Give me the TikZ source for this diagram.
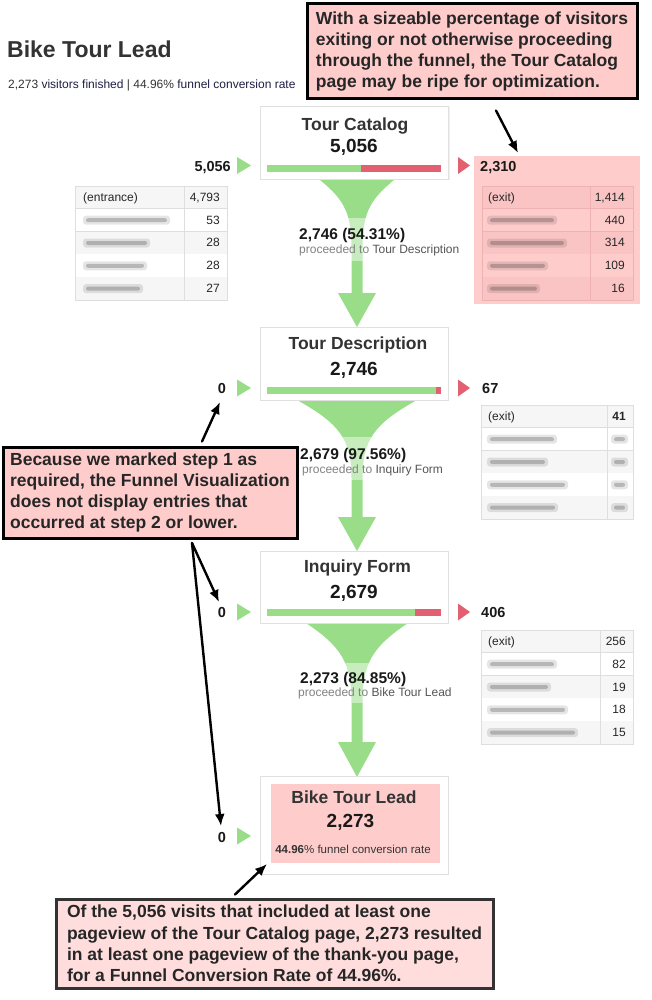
\documentclass[tikz,border=0pt]{standalone}
\usepackage{fontspec}
\setmainfont{Liberation Sans}
\usetikzlibrary{arrows.meta,shadows}

\definecolor{funnelgreen}{RGB}{153,221,136}
\definecolor{barred}{RGB}{226,96,112}
\definecolor{calloutpink}{RGB}{255,204,204}
\definecolor{notepink}{RGB}{255,221,221}
\definecolor{textgray}{RGB}{51,51,51}
\definecolor{flowgray}{RGB}{130,130,130}
\definecolor{destgray}{RGB}{85,85,85}
\definecolor{navytext}{RGB}{30,30,70}
\definecolor{cellgray}{RGB}{246,246,246}
\definecolor{linegray}{RGB}{222,222,222}
\definecolor{exitcell}{RGB}{250,196,196}
\definecolor{exitline}{RGB}{238,178,178}

% funnel: top, half width, neck, arrow base, arrow tip
\newcommand{\funnel}[5]{%
  \fill[funnelgreen] (357-#2,#1) .. controls (357-#2*0.3,#1+0.3*#3-0.3*#1) and (351.5,#1+0.5*#3-0.5*#1) .. (351.5,#3)
    -- (351.5,#4) -- (338,#4) -- (357,#5) -- (376,#4) -- (362.5,#4) -- (362.5,#3)
    .. controls (362.5,#1+0.5*#3-0.5*#1) and (357+#2*0.3,#1+0.3*#3-0.3*#1) .. (357+#2,#1) -- cycle;}

% table: left, top, right, column, fill a, fill b, lines
\newcommand{\pagetable}[7]{%
  \foreach \r in {0,...,4}{
    \ifodd\r \def\rowfill{#6}\else \def\rowfill{#5}\fi
    \fill[\rowfill] (#1,#2+\r*22.8) rectangle (#3,#2+\r*22.8+22.8);
    \draw[#7, line width=.8pt] (#1,#2+\r*22.8+22.8) -- (#3,#2+\r*22.8+22.8);
  }
  \draw[#7, line width=.8pt] (#1,#2) rectangle (#3,#2+114);
  \draw[#7, line width=.8pt] (#4,#2) -- (#4,#2+114);}

% blurred entry: x0, x1, y
\newcommand{\blurbar}[3]{%
  \fill[black, opacity=.1, rounded corners=3pt] (#1,#3-4.5) rectangle (#2,#3+4.5);
  \fill[black, opacity=.2, rounded corners=2pt] (#1+3,#3-2) rectangle (#2-3,#3+2);}

\newcommand{\entrymark}[1]{\fill[funnelgreen] (237,#1-8.5) -- (251,#1) -- (237,#1+8.5) -- cycle;}
\newcommand{\exitmark}[1]{\fill[barred] (458,#1-8.5) -- (470,#1) -- (458,#1+8.5) -- cycle;}

\tikzset{
  stepbox/.style={draw=black!12, fill=white, inner sep=0pt, minimum width=188pt,
    drop shadow={opacity=.12, shadow xshift=1pt, shadow yshift=-1pt}},
  steptitle/.style={font=\fontsize{17.5}{20}\selectfont\bfseries, text=textgray, anchor=base, inner sep=0pt},
  stepcount/.style={font=\fontsize{19}{22}\selectfont\bfseries, text=black!90, anchor=base, inner sep=0pt},
  sidecount/.style={font=\fontsize{14.5}{17}\selectfont\bfseries, text=black!90, inner sep=0pt},
  flowcount/.style={font=\fontsize{15.5}{18}\selectfont\bfseries, text=black!90, anchor=base west, inner sep=0pt},
  flowtext/.style={font=\fontsize{12}{14}\selectfont, text=flowgray, anchor=base west, inner sep=0pt},
  cell/.style={font=\fontsize{12}{14}\selectfont, text=black!85, inner sep=0pt},
  callout/.style={fill=calloutpink, draw=black, line width=3pt, align=left, inner xsep=4pt, inner ysep=0pt,
    text=black!85, font=\fontsize{17.5}{21.3}\selectfont\bfseries},
  notearrow/.style={line width=2.4pt, -{Latex[length=12pt,width=10pt]}, line cap=round}
}

\begin{document}
\begin{tikzpicture}[x=1pt, y=-1pt]
\useasboundingbox[fill=white] (0,0) rectangle (652,1000);

% Header
\node[anchor=base west, inner sep=0pt, font=\fontsize{23}{27}\selectfont\bfseries, text=textgray] (title) at (7,58) {Bike Tour Lead};
\node[anchor=base west, inner sep=0pt, font=\fontsize{12}{14}\selectfont, text=textgray] (summary) at (8,89)
  {2,273 \textcolor{navytext}{visitors finished} | 44.96\% \textcolor{navytext}{funnel conversion rate}};

% Funnels
\funnel{180}{37}{250}{293}{327}
\funnel{400}{60}{478}{517}{551}
\funnel{623}{51}{703}{742}{777}
\fill[white, opacity=.45] (290,218) rectangle (465,261);
\fill[white, opacity=.45] (290,437) rectangle (465,480);
\fill[white, opacity=.45] (290,663) rectangle (465,703);

% Step 1
\node[stepbox, minimum height=73pt] (catalog) at (354.5,142.5) {};
\node[steptitle] (catalogtitle) at (355,131) {Tour Catalog};
\node[stepcount] (catalogcount) at (354,153) {5,056};
\fill[funnelgreen] (267,165) rectangle (361,172);
\fill[barred] (361,165) rectangle (441,172);
\entrymark{165.5}
\exitmark{165.5}
\node[sidecount, anchor=base east] (catalogin) at (231,172) {5,056};
\fill[calloutpink] (474,156) rectangle (640,304);
\node[sidecount, anchor=base west] (catalogout) at (480,172) {2,310};
\node[flowcount] (flow1) at (299,240) {2,746 (54.31\%)};
\node[flowtext] (flow1to) at (299,253) {proceeded to \textcolor{destgray}{Tour Description}};

\pagetable{75}{186}{227}{184}{cellgray}{white}{linegray}
\node[cell, anchor=base west] (in1label) at (83,201.4) {(entrance)};
\foreach \v [count=\i from 0] in {{4,793},53,28,28,27}
  \node[cell, anchor=base east] (in1v\i) at (220,201.4+\i*22.8) {\v};
\foreach \w [count=\i] in {170,150,147,143}{
  \blurbar{83}{\w}{197.4+\i*22.8}}

\pagetable{482}{186}{633}{590}{exitcell}{calloutpink}{exitline}
\node[cell, anchor=base west] (out1label) at (488,201.4) {(exit)};
\foreach \v [count=\i from 0] in {{1,414},440,314,109,16}
  \node[cell, anchor=base east] (out1v\i) at (625,201.4+\i*22.8) {\v};
\foreach \w [count=\i] in {557,567,548,540}{
  \blurbar{487}{\w}{197.4+\i*22.8}}

% Step 2
\node[stepbox, minimum height=73pt] (description) at (354,363.5) {};
\node[steptitle] (descriptiontitle) at (358,349.5) {Tour Description};
\node[stepcount] (descriptioncount) at (354,375) {2,746};
\fill[funnelgreen] (267,387) rectangle (436,394);
\fill[barred] (436,387) rectangle (441,394);
\entrymark{388}
\exitmark{388}
\node[sidecount, anchor=base] (descriptionin) at (222,393) {0};
\node[sidecount, anchor=base west] (descriptionout) at (482,393) {67};
\node[flowcount] (flow2) at (300,459) {2,679 (97.56\%)};
\node[flowtext] (flow2to) at (302,473) {proceeded to \textcolor{destgray}{Inquiry Form}};

\pagetable{481}{405}{633}{607}{cellgray}{white}{linegray}
\node[cell, anchor=base west] (out2label) at (488,420.4) {(exit)};
\node[cell, anchor=base east, font=\fontsize{12}{14}\selectfont\bfseries] (out2v0) at (626,420.4) {41};
\foreach \w [count=\i] in {557,548,568,558}{
  \blurbar{487}{\w}{416.4+\i*22.8}
  \blurbar{611}{628}{416.4+\i*22.8}}

% Step 3
\node[stepbox, minimum height=72pt] (inquiry) at (354,587) {};
\node[steptitle] (inquirytitle) at (357.5,572) {Inquiry Form};
\node[stepcount] (inquirycount) at (354,598) {2,679};
\fill[funnelgreen] (267,609) rectangle (415,616);
\fill[barred] (415,609) rectangle (441,616);
\entrymark{612}
\exitmark{612}
\node[sidecount, anchor=base] (inquiryin) at (222,617) {0};
\node[sidecount, anchor=base west] (inquiryout) at (481,617) {406};
\node[flowcount] (flow3) at (300,683) {2,273 (84.85\%)};
\node[flowtext] (flow3to) at (298,696) {proceeded to \textcolor{destgray}{Bike Tour Lead}};

\pagetable{481}{630}{633}{600}{cellgray}{white}{linegray}
\node[cell, anchor=base west] (out3label) at (488,645.4) {(exit)};
\foreach \v [count=\i from 0] in {256,82,19,18,15}
  \node[cell, anchor=base east] (out3v\i) at (626,645.4+\i*22.8) {\v};
\foreach \w [count=\i] in {557,551,568,578}{
  \blurbar{487}{\w}{641.4+\i*22.8}}

% Step 4
\node[stepbox, minimum height=98pt] (lead) at (354,825) {};
\fill[calloutpink] (271,784) rectangle (440,863);
\node[steptitle] (leadtitle) at (354,803) {Bike Tour Lead};
\node[stepcount] (leadcount) at (350.5,827) {2,273};
\node[anchor=base, inner sep=0pt, font=\fontsize{11.5}{13}\selectfont, text=textgray] (leadrate) at (353,853)
  {\textbf{44.96}\% funnel conversion rate};
\entrymark{836}
\node[sidecount, anchor=base] (leadin) at (222,842) {0};

% Notes
\node[callout, minimum width=330pt, minimum height=95pt] (note1) at (472,51.5)
  {With a sizeable percentage of visitors\\exiting or not otherwise proceeding\\through the funnel, the Tour Catalog\\page may be ripe for optimization.};
\node[callout, minimum width=294pt, minimum height=91pt] (note2) at (150,492.5)
  {Because we marked step 1 as\\required, the Funnel Visualization\\does not display entries that\\occurred at step 2 or lower.};
\node[callout, fill=notepink, draw=black!80, minimum width=437pt, minimum height=89pt] (note3) at (274.5,943.5)
  {Of the 5,056 visits that included at least one\\pageview of the Tour Catalog page, 2,273 resulted\\in at least one pageview of the thank-you page,\\for a Funnel Conversion Rate of 44.96\%.};

\coordinate (tipout) at (518,153);
\coordinate (tipdesc) at (220,402);
\coordinate (tipinq) at (219,602);
\coordinate (tiplead) at (221,826);
\coordinate (tipbox) at (267,864);
\coordinate (fork) at ([xshift=42pt,yshift=-3.5pt]note2.south);
\draw[notearrow] ([xshift=24pt,yshift=-10pt]note1.south) -- (tipout);
\draw[notearrow] ([xshift=52pt,yshift=4pt]note2.north) -- (tipdesc);
\draw[notearrow] (fork) -- (tipinq);
\draw[notearrow] (fork) -- (tiplead);
\draw[notearrow] ([xshift=-39.5pt,yshift=3pt]note3.north) -- (tipbox);
\end{tikzpicture}
\end{document}
